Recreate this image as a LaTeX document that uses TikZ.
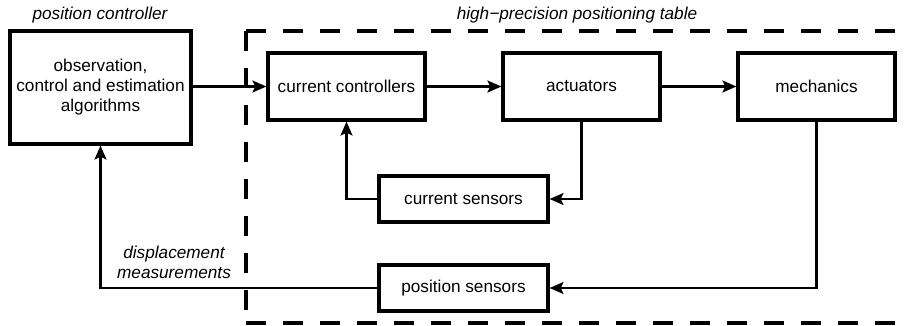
\documentclass[tikz,border=0pt]{standalone}
\usepackage{fontspec}
\setmainfont{Liberation Sans}
\usetikzlibrary{arrows.meta}
\begin{document}
\begin{tikzpicture}[x=1pt,y=-1pt,
  font=\fontsize{17.2}{20}\selectfont,
  block/.style={draw, line width=3.2pt, inner sep=0pt, align=center},
  conn/.style={line width=2.3pt, -{Stealth[length=14pt,width=12pt,inset=3pt]}},
  groupline/.style={line width=3.2pt, dash pattern=on 20pt off 17pt},
  caption/.style={font=\fontsize{17.2}{20}\selectfont\itshape, align=center}]
  \useasboundingbox (0,0) rectangle (908,325);
  \clip (0,0) rectangle (908,325);

  % table outline (its right edge lies past the page)
  \draw[groupline] (246,31) -- (930,31);
  \draw[groupline] (246,31) -- (246,323);
  \draw[groupline] (246,323) -- (930,323);

  % blocks
  \node[block, minimum width=181pt, minimum height=113pt] (ctrl) at (100.5,87.5)
    {observation,\\control and estimation\\algorithms};
  \node[block, minimum width=157pt, minimum height=67pt] (cc) at (346.5,86.5) {current controllers};
  \node[block, minimum width=157pt, minimum height=67pt] (act) at (581.5,86.5) {actuators};
  \node[block, minimum width=157pt, minimum height=67pt] (mech) at (816.5,86.5) {mechanics};
  \node[block, minimum width=169pt, minimum height=46pt] (cs) at (463.5,199) {current sensors};
  \node[block, minimum width=169pt, minimum height=46pt] (ps) at (463.5,288) {position sensors};

  % captions
  \node[caption] (capctrl) at (100,15) {position controller};
  \node[caption] (captab) at (577,15) {high\textminus precision positioning table};
  \node[caption] (capdisp) at (174,262) {displacement\\measurements};

  % signal flow
  \draw[conn] (ctrl.east |- cc.west) -- (cc.west);
  \draw[conn] (cc.east) -- (act.west);
  \draw[conn] (act.east) -- (mech.west);
  \draw[conn] (act.south) |- (cs.east);
  \draw[conn] (cs.west) -| (cc.south);
  \draw[conn] (mech.south) |- (ps.east);
  \draw[conn] (ps.west) -| (ctrl.south);
\end{tikzpicture}
\end{document}
